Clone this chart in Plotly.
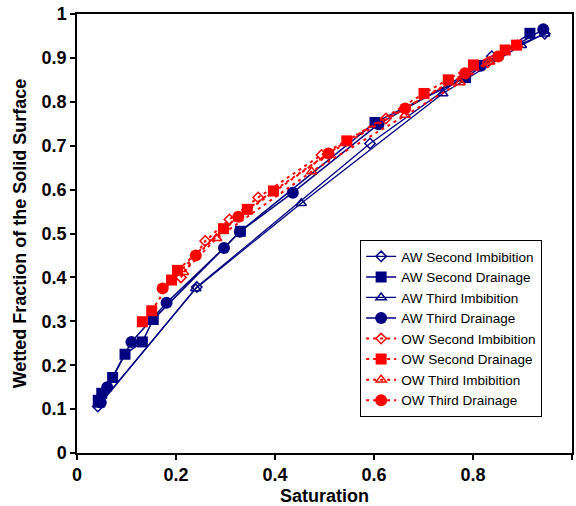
import plotly.graph_objects as go

# ---- data ----
aw_si_s = [0.042, 0.242, 0.592, 0.838, 0.945]
aw_si_w = [0.106, 0.378, 0.705, 0.904, 0.955]

aw_sd_s = [0.043, 0.050, 0.072, 0.097, 0.132, 0.154, 0.330, 0.602, 0.785, 0.915]
aw_sd_w = [0.120, 0.136, 0.172, 0.225, 0.253, 0.304, 0.505, 0.753, 0.855, 0.956]

aw_ti_s = [0.045, 0.240, 0.453, 0.739, 0.898, 0.945]
aw_ti_w = [0.110, 0.375, 0.569, 0.819, 0.929, 0.955]

aw_td_s = [0.048, 0.061, 0.110, 0.181, 0.297, 0.329, 0.436, 0.609, 0.816, 0.942]
aw_td_w = [0.115, 0.150, 0.253, 0.342, 0.467, 0.504, 0.593, 0.749, 0.882, 0.965]

ow_si_s = [0.210, 0.259, 0.308, 0.366, 0.494, 0.624, 0.830]
ow_si_w = [0.400, 0.483, 0.532, 0.582, 0.679, 0.762, 0.890]

ow_sd_s = [0.132, 0.151, 0.191, 0.203, 0.296, 0.344, 0.397, 0.545, 0.701, 0.750, 0.801, 0.865, 0.888]
ow_sd_w = [0.299, 0.324, 0.394, 0.416, 0.511, 0.555, 0.597, 0.711, 0.819, 0.850, 0.884, 0.918, 0.929]

ow_ti_s = [0.215, 0.282, 0.474, 0.663, 0.774, 0.834, 0.890]
ow_ti_w = [0.412, 0.489, 0.641, 0.770, 0.844, 0.891, 0.930]

ow_td_s = [0.173, 0.240, 0.326, 0.508, 0.663, 0.784, 0.851]
ow_td_w = [0.375, 0.450, 0.538, 0.682, 0.785, 0.865, 0.903]

NAVY = "#000080"
RED = "#FF0000"
FONT = "Arial, Liberation Sans, sans-serif"

fig = go.Figure()

def add(name, xs, ys, color, symbol, size, dash, lw):
    open_sym = symbol.endswith("-open")
    fig.add_trace(go.Scatter(
        x=xs, y=ys, name=name, mode="lines+markers",
        line=dict(color=color, width=lw, dash=dash),
        marker=dict(symbol=symbol, size=size, color=color,
                    line=dict(color=color, width=1.5 if open_sym else 0)),
    ))

add("AW Second Imbibition", aw_si_s, aw_si_w, NAVY, "diamond-open", 8, "solid", 1.3)
add("AW Second Drainage", aw_sd_s, aw_sd_w, NAVY, "square", 11, "solid", 1.5)
add("AW Third Imbibition", aw_ti_s, aw_ti_w, NAVY, "triangle-up-open", 9, "solid", 1.3)
add("AW Third Drainage", aw_td_s, aw_td_w, NAVY, "circle", 12, "solid", 1.5)
add("OW Second Imbibition", ow_si_s, ow_si_w, RED, "diamond-open", 8, "3px,4px", 2)
add("OW Second Drainage", ow_sd_s, ow_sd_w, RED, "square", 11, "3px,4px", 2)
add("OW Third Imbibition", ow_ti_s, ow_ti_w, RED, "triangle-up-open", 9, "3px,4px", 2)
add("OW Third Drainage", ow_td_s, ow_td_w, RED, "circle", 12, "3px,4px", 2)

axis_common = dict(
    showline=True, linecolor="black", linewidth=1.5, mirror=True,
    ticks="outside", ticklen=5, tickwidth=1.5, tickcolor="black",
    showgrid=False, zeroline=False, automargin=False,
    tickfont=dict(family=FONT, size=18, color="black", weight="bold"),
)

fig.update_layout(
    width=576, height=506,
    margin=dict(l=77, r=4, t=14, b=53),
    paper_bgcolor="white", plot_bgcolor="white",
    font=dict(family=FONT, color="black"),
    xaxis=dict(range=[0, 1], dtick=0.2,
               title=dict(text="<b>Saturation</b>", font=dict(family=FONT, size=18), standoff=5),
               **axis_common),
    yaxis=dict(range=[0, 1], dtick=0.1,
               title=dict(text="<b>Wetted Fraction of the Solid Surface</b>", font=dict(family=FONT, size=18), standoff=10),
               **axis_common),
    showlegend=True,
    legend=dict(x=0.572, y=0.485, xanchor="left", yanchor="top",
                bgcolor="white", bordercolor="black", borderwidth=1,
                font=dict(family=FONT, size=13.5, color="black"),
                tracegroupgap=0),
)

fig.write_html("out.html", config={"displayModeBar": False},
               post_script="document.body.style.margin='0';")
